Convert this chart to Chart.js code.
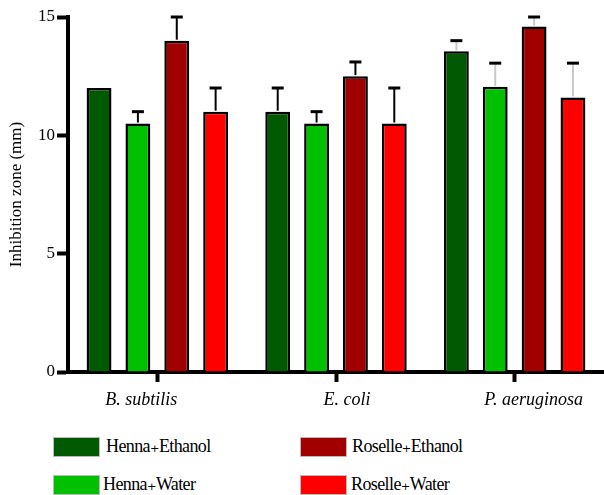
<!DOCTYPE html>
<html><head><meta charset="utf-8">
<script src="https://cdn.jsdelivr.net/npm/chart.js@4.4.1/dist/chart.umd.min.js"></script>
<style>
html,body{margin:0;padding:0;background:#fff;width:604px;height:495px;overflow:hidden;}
#wrap{position:absolute;left:0;top:0;width:604px;height:425px;}
.leg{position:absolute;font-family:"Liberation Serif","DejaVu Serif",serif;font-size:18px;letter-spacing:-0.6px;color:#000;white-space:nowrap;}
.sw{position:absolute;width:47px;height:20px;box-sizing:border-box;border:1px solid #bbb;}
</style></head><body>
<div id="wrap"><canvas id="c" width="604" height="425"></canvas></div>
<div id="legend"></div>
<script>
const categories = ["B. subtilis", "E. coli", "P. aeruginosa"];
const seriesNames = ["Henna\u208AEthanol", "Henna\u208AWater", "Roselle\u208AEthanol", "Roselle\u208AWater"];
const hennaEthanol = [12.0, 11.0, 13.55];
const hennaWater = [10.5, 10.5, 12.05];
const roselleEthanol = [14.0, 12.5, 14.6];
const roselleWater = [11.0, 10.5, 11.6];
const hennaEthanolErr = [0, 1.0, 0.45];
const hennaWaterErr = [0.5, 0.5, 1.0];
const roselleEthanolErr = [1.0, 0.6, 0.4];
const roselleWaterErr = [1.0, 1.5, 1.45];
const yTicks = [0, 5, 10, 15];

const FONT = "'Liberation Serif', 'DejaVu Serif', serif";
const colors = ["#015a01", "#00c000", "#a00000", "#ff0000"];
const values = [hennaEthanol, hennaWater, roselleEthanol, roselleWater];
const errs = [hennaEthanolErr, hennaWaterErr, roselleEthanolErr, roselleWaterErr];
const stemColors = ["#000", "#000", "#c8c8c8"];
const labelShift = [-16, 11, 19];

const errorBars = {
  id: 'errorBars',
  afterDatasetsDraw(chart) {
    const ctx = chart.ctx, y = chart.scales.y;
    chart.data.datasets.forEach((ds, di) => {
      const meta = chart.getDatasetMeta(di);
      meta.data.forEach((bar, i) => {
        const e = ds.errors[i];
        if (!e) return;
        const top = y.getPixelForValue(ds.data[i] + e);
        ctx.save();
        ctx.strokeStyle = stemColors[i];
        ctx.lineWidth = 2;
        ctx.beginPath(); ctx.moveTo(bar.x, bar.y - 1); ctx.lineTo(bar.x, top); ctx.stroke();
        ctx.strokeStyle = "#000"; ctx.lineWidth = 3;
        ctx.beginPath(); ctx.moveTo(bar.x - 6, top); ctx.lineTo(bar.x + 6, top); ctx.stroke();
        ctx.restore();
      });
    });
  }
};

const xLabels = {
  id: 'xLabels',
  afterDraw(chart) {
    const ctx = chart.ctx, x = chart.scales.x;
    ctx.save();
    ctx.font = "italic 18px " + FONT;
    ctx.fillStyle = "#000";
    ctx.textAlign = "center";
    ctx.textBaseline = "middle";
    chart.data.labels.forEach((l, i) => {
      ctx.fillText(l, x.getPixelForTick(i) + labelShift[i], x.bottom - 25);
    });
    ctx.restore();
  }
};

new Chart(document.getElementById('c'), {
  type: 'bar',
  data: {
    labels: categories,
    datasets: seriesNames.map((n, k) => ({
      label: n, data: values[k], errors: errs[k],
      backgroundColor: colors[k], borderColor: "#000", borderWidth: 2.5,
      barPercentage: 0.64, categoryPercentage: 0.87
    }))
  },
  options: {
    responsive: false, animation: false,
    layout: { padding: { top: 17, right: 0, left: 0, bottom: 0 } },
    plugins: { legend: { display: false }, tooltip: { enabled: false } },
    scales: {
      x: {
        afterFit(s) { s.height = 53; },
        grid: { display: true, drawOnChartArea: false, offset: false, tickLength: 10, tickWidth: 4, tickColor: "#000" },
        border: { display: true, color: "#000", width: 4 },
        ticks: { display: true, color: "rgba(0,0,0,0)", padding: 6, font: { family: FONT, size: 18, style: "italic" } }
      },
      y: {
        min: 0, max: 15,
        afterFit(s) { s.width = 68; },
        afterBuildTicks(s) { s.ticks = yTicks.map(v => ({ value: v })); },
        grid: { display: true, drawOnChartArea: false, tickLength: 11, tickWidth: 4, tickColor: "#000" },
        border: { display: true, color: "#000", width: 4 },
        title: { display: true, text: "Inhibition zone (mm)", color: "#000", padding: { top: 6, bottom: 0 }, font: { family: FONT, size: 17 } },
        ticks: { color: "#000", padding: 2, font: { family: FONT, size: 17 } }
      }
    }
  },
  plugins: [errorBars, xLabels]
});

const legendPos = [[53, 437, 106], [300, 437, 352], [53, 475, 103], [300, 475, 351]];
const lg = document.getElementById('legend');
seriesNames.forEach((n, k) => {
  const [bx, by, tx] = legendPos[[0, 2, 1, 3][k]];
  const sw = document.createElement('div');
  sw.className = 'sw'; sw.style.left = bx + 'px'; sw.style.top = by + 'px'; sw.style.background = colors[k];
  lg.appendChild(sw);
  const t = document.createElement('div');
  t.className = 'leg'; t.style.left = tx + 'px'; t.style.top = (by - 2) + 'px'; t.textContent = n;
  lg.appendChild(t);
});
</script>
</body></html>
